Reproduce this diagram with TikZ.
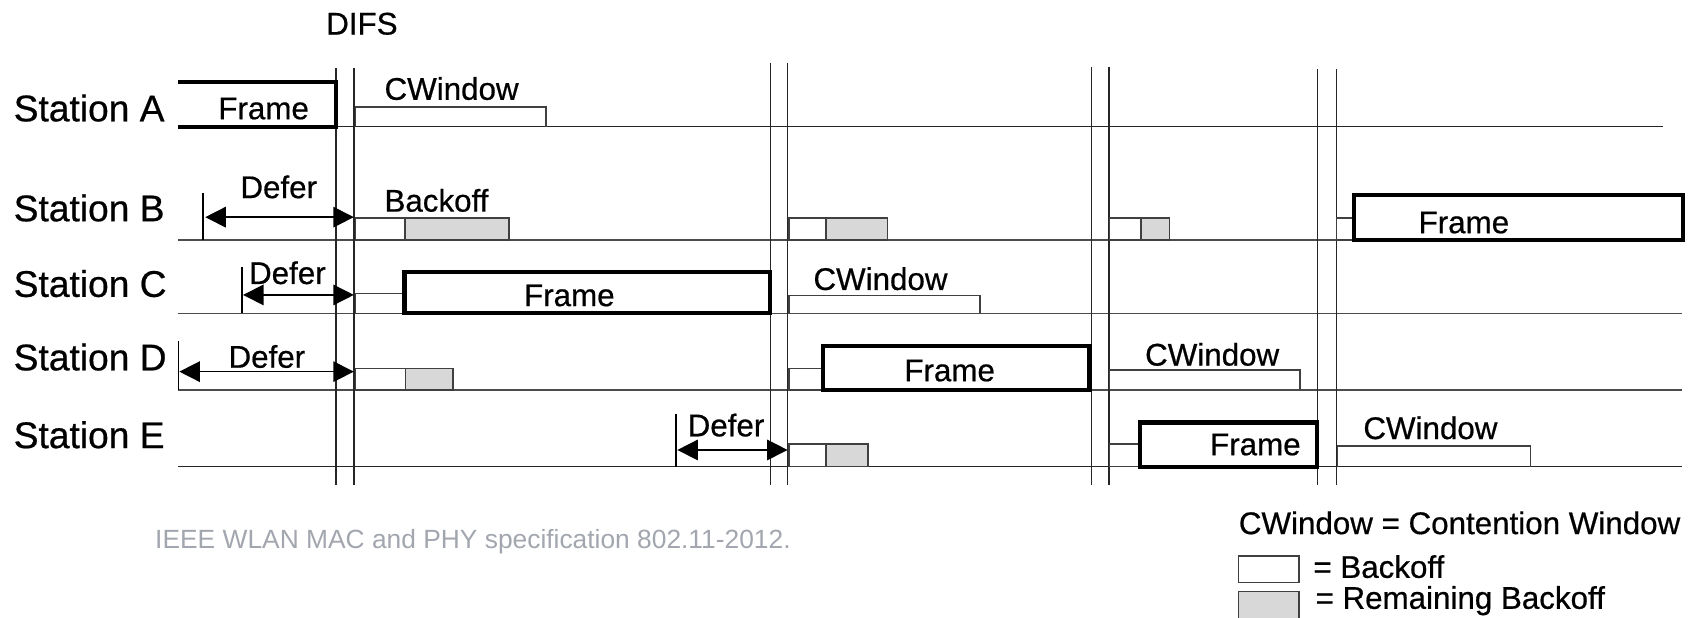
\documentclass[tikz,border=0pt]{standalone}
\usepackage{fontspec}
\setmainfont{Liberation Sans}[BoldFont=Liberation Sans,BoldFeatures={FakeBold=0.6}]
\usetikzlibrary{arrows.meta}
\definecolor{bofill}{HTML}{D8D8D8}
\definecolor{srcgray}{HTML}{A2A6AE}

\begin{document}
\begin{tikzpicture}[x=0.5pt,y=-0.5pt,>={Triangle[length=9.5pt,width=9.5pt]},line width=0.7pt,
  lbl/.style={inner sep=0pt,font=\bfseries\fontsize{14.5}{16}\selectfont},
  stn/.style={inner sep=0pt,anchor=west,font=\bfseries\fontsize{17.2}{20}\selectfont},
  frm/.style={line width=2pt,line join=miter},
  bo/.style={draw=black!75,fill=white},
  rbo/.style={draw=black!75,fill=bofill},
  cw/.style={black!75}]
\useasboundingbox (0,0) rectangle (1568,572);
\node[lbl] (difs) at (335,22) {DIFS};
\node[stn] (stA) at (12,100) {Station A};
\node[stn] (stB) at (12,192.5) {Station B};
\node[stn] (stC) at (12,262.5) {Station C};
\node[stn] (stD) at (12,330.5) {Station D};
\node[stn] (stE) at (12,402.5) {Station E};
\draw[black!85] (165,117.3) -- (1539,117.3);
\draw[black!70] (165,222) -- (1557,222);
\draw[black!70] (165,290) -- (1557,290);
\draw[black!70] (165,361) -- (1557,361);
\draw[black!85] (165,432) -- (1557,432);
\draw[black!85] (311,63) -- (311,449) (327.5,63) -- (327.5,449);
\draw[black!85] (713,58) -- (713,449) (729,58) -- (729,449);
\draw[black!85] (1010.5,62) -- (1010.5,449) (1026.5,62) -- (1026.5,449);
\draw[black!85] (1219.5,64) -- (1219.5,449) (1237,64) -- (1237,449);
\draw[frm] (165,76) -- (311,76) -- (311,117.3) -- (165,117.3);
\node[lbl] (frA) at (244,100.5) {Frame};
\draw[cw] (329,117.3) -- (329,99) -- (505.5,99) -- (505.5,117.3);
\node[lbl] (cwA) at (418,82) {CWindow};
\draw (188,179) -- (188,222);
\coordinate (dB0) at (190,201);
\coordinate (dB1) at (327.5,201);
\draw[<->] (dB0) -- (dB1);
\node[lbl] (dfB) at (258,173) {Defer};
\draw[bo] (329,202) rectangle (375,222);
\draw[rbo] (375,202) rectangle (471,222);
\node[lbl] (boB) at (404,185.5) {Backoff};
\draw[bo] (730.5,202) rectangle (764.5,222);
\draw[rbo] (764.5,202) rectangle (821.5,222);
\draw[bo] (1027,202) rectangle (1056,222);
\draw[rbo] (1056,202) rectangle (1082.5,222);
\draw[bo] (1237,202) rectangle (1253.5,222);
\draw[frm] (1253.5,180.5) rectangle (1558,222);
\node[lbl] (frB) at (1355,206) {Frame};
\draw (224,247) -- (224,290);
\coordinate (dC0) at (225,273);
\coordinate (dC1) at (327.5,273);
\draw[<->] (dC0) -- (dC1);
\node[lbl] (dfC) at (266,252.5) {Defer};
\draw[bo] (329,271.5) rectangle (374.5,290);
\draw[frm] (374.5,252) rectangle (713,290);
\node[lbl] (frC) at (527,273.5) {Frame};
\draw[cw] (730.5,290) -- (730.5,273.5) -- (907,273.5) -- (907,290);
\node[lbl] (cwC) at (815,258) {CWindow};
\draw (165,316) -- (165,361);
\coordinate (dD0) at (166,344);
\coordinate (dD1) at (327.5,344);
\draw[<->] (dD0) -- (dD1);
\node[lbl] (dfD) at (247,330) {Defer};
\draw[bo] (329,341) rectangle (375.5,361);
\draw[rbo] (375.5,341) rectangle (419.5,361);
\draw[bo] (730.5,341) rectangle (762,361);
\draw[frm] (762,320) rectangle (1008.5,361);
\node[lbl] (frD) at (879,343) {Frame};
\draw[cw] (1027,361) -- (1027,342.5) -- (1203.5,342.5) -- (1203.5,361);
\node[lbl] (cwD) at (1122,328) {CWindow};
\draw (625.5,383) -- (625.5,432);
\coordinate (dE0) at (627,416.5);
\coordinate (dE1) at (729,416.5);
\draw[<->] (dE0) -- (dE1);
\node[lbl] (dfE) at (672,393.5) {Defer};
\draw[bo] (730.5,411) rectangle (764.5,432);
\draw[rbo] (764.5,411) rectangle (803.5,432);
\draw[bo] (1027,411) rectangle (1055,432);
\draw[frm] (1055,391) rectangle (1219,432);
\node[lbl] (frE) at (1162,411.5) {Frame};
\draw[cw] (1238,432) -- (1238,413) -- (1416.5,413) -- (1416.5,432);
\node[lbl] (cwE) at (1324,396) {CWindow};
\node[lbl,anchor=west] (lgcw) at (1146,484) {CWindow = Contention Window};
\draw[bo] (1146.5,514.5) rectangle (1202.5,539);
\node[lbl,anchor=west] (lgbo) at (1215,524.5) {= Backoff};
\draw[rbo] (1146.5,547.5) rectangle (1202.5,576);
\node[lbl,anchor=west] (lgrbo) at (1217,556) {= Remaining Backoff};
\node[inner sep=0pt,anchor=west,text=srcgray,font=\fontsize{12.2}{14}\selectfont] (src) at (143,501) {IEEE WLAN MAC and PHY specification 802.11-2012.};
\end{tikzpicture}
\end{document}
